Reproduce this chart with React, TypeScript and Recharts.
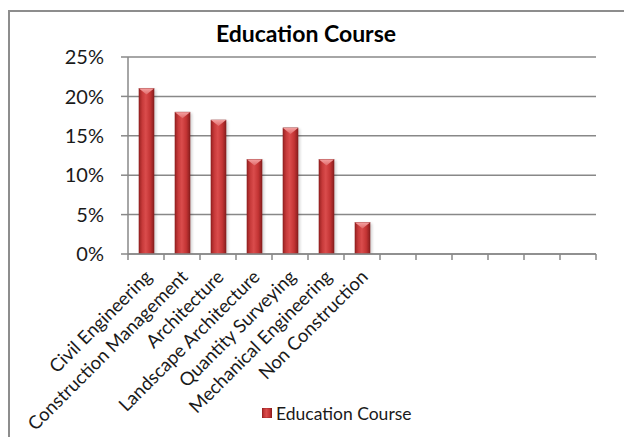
import { Bar, BarChart, CartesianGrid, Legend, XAxis, YAxis } from "recharts";

const courses = [
  "Civil Engineering",
  "Construction Management",
  "Architecture",
  "Landscape Architecture",
  "Quantity Surveying",
  "Mechanical Engineering",
  "Non Construction",
  "",
  "",
  "",
  "",
  "",
  "",
];
const shares = [0.21, 0.18, 0.17, 0.12, 0.16, 0.12, 0.04, null, null, null, null, null, null];
const yTicks = [0, 0.05, 0.1, 0.15, 0.2, 0.25];
const slotEdges = [0, 1, 2, 3, 4, 5, 6, 7, 8, 9, 10, 11, 12, 13];

const data = courses.map((name, i) => ({
  slot: "s" + i,
  pos: i + 0.5,
  name,
  value: shares[i],
}));

const FONT = "Lato, 'Open Sans', sans-serif";
const AXIS = "#888888";

function CylinderBar(props: any) {
  const { x, y, width, height } = props;
  if (!height || height <= 0) return null;
  const cap = Math.min(6, height);
  return (
    <g>
      <rect x={x + 2} y={y + 1} width={width} height={height} fill="#000" opacity={0.18} filter="url(#barShadow)" />
      <rect x={x} y={y} width={width} height={height} fill="url(#barGrad)" stroke="#8a2020" strokeWidth={0.6} />
      <path d={`M${x},${y} L${x + width},${y} L${x + width / 2},${y + cap} Z`} fill="url(#capGrad)" />
    </g>
  );
}

function CourseTick(props: any) {
  const { x, y, payload } = props;
  const label = courses[payload.index] || "";
  return (
    <g transform={`translate(${x + 7},${y + 12})`}>
      <text x={0} y={0} textAnchor="end" transform="rotate(-45)" fontSize={18.5} fontFamily={FONT} fill="#1a1a1a">
        {label}
      </text>
    </g>
  );
}

function BlankTick() {
  return <g />;
}

function LegendBox() {
  return (
    <div style={{ display: "flex", alignItems: "center", fontFamily: FONT, fontSize: 17.5, color: "#1a1a1a", height: 24 }}>
      <svg width={10} height={10} style={{ marginRight: 4 }}>
        <rect x={0} y={0} width={10} height={10} fill="url(#barGrad)" stroke="#8a2020" strokeWidth={0.6} />
      </svg>
      <span>Education Course</span>
    </div>
  );
}

export default function App() {
  return (
    <div style={{ position: "fixed", left: 0, top: 0, width: 624, height: 437, overflow: "hidden", background: "#fff" }}>
      <div
        style={{
          position: "absolute",
          left: 8,
          top: 10,
          width: 800,
          height: 800,
          border: "2px solid #8d8d8d",
        }}
      />
      <div
        style={{
          position: "absolute",
          left: 8,
          top: 19,
          width: 596,
          textAlign: "center",
          fontFamily: FONT,
          fontWeight: 700,
          fontSize: 23,
          color: "#000",
        }}
      >
        Education Course
      </div>
      <div style={{ position: "absolute", left: 0, top: 0 }}>
        <BarChart width={624} height={437} data={data} margin={{ top: 57, right: 28, left: 0, bottom: 0 }}>
          <defs>
            <linearGradient id="barGrad" x1="0" y1="0" x2="1" y2="0">
              <stop offset="0%" stopColor="#9a2222" />
              <stop offset="22%" stopColor="#c73a3a" />
              <stop offset="45%" stopColor="#da4c4c" />
              <stop offset="75%" stopColor="#c33434" />
              <stop offset="100%" stopColor="#8a1e1e" />
            </linearGradient>
            <linearGradient id="capGrad" x1="0" y1="0" x2="0" y2="1">
              <stop offset="0%" stopColor="#f4a0a0" />
              <stop offset="100%" stopColor="#e06a6a" />
            </linearGradient>
            <filter id="barShadow" x="-50%" y="-10%" width="200%" height="120%">
              <feGaussianBlur stdDeviation="1.5" />
            </filter>
          </defs>
          <CartesianGrid vertical={false} stroke={AXIS} strokeWidth={1.5} xAxisId="a" />
          <XAxis
            xAxisId="a"
            type="number"
            dataKey="pos"
            domain={[0, 13]}
            ticks={slotEdges}
            interval={0}
            tick={<BlankTick />}
            tickSize={6}
            height={6}
            axisLine={{ stroke: AXIS, strokeWidth: 1.5 }}
            tickLine={{ stroke: AXIS, strokeWidth: 1.5 }}
            allowDataOverflow
          />
          <XAxis
            xAxisId="b"
            dataKey="slot"
            height={153}
            axisLine={false}
            tickLine={false}
            tickMargin={0}
            interval={0}
            tick={<CourseTick />}
          />
          <YAxis
            width={128}
            domain={[0, 0.25]}
            ticks={yTicks}
            tickFormatter={(v: number) => `${Math.round(v * 100)}%`}
            tick={{ fontSize: 20, fontFamily: FONT, fill: "#1a1a1a" }}
            tickSize={7}
            tickMargin={17}
            axisLine={{ stroke: AXIS, strokeWidth: 1.5 }}
            tickLine={{ stroke: AXIS, strokeWidth: 1.5 }}
            allowDataOverflow
          />
          <Legend
            verticalAlign="bottom"
            content={<LegendBox />}
            wrapperStyle={{ left: 262, bottom: 12, width: "auto", height: 24 }}
          />
          <Bar
            xAxisId="b"
            dataKey="value"
            barSize={15}
            shape={<CylinderBar />}
            isAnimationActive={false}
          />
        </BarChart>
      </div>
    </div>
  );
}
